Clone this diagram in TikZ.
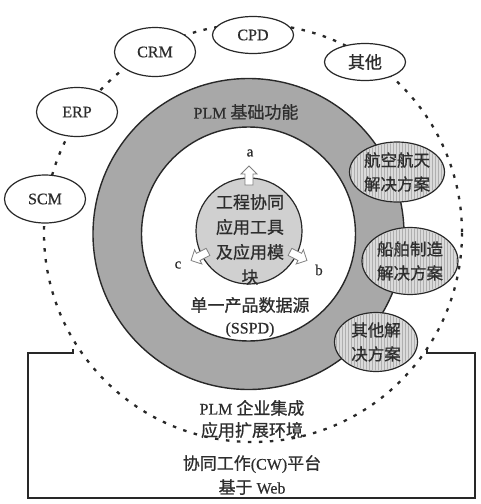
\documentclass[tikz,border=0pt]{standalone}
\usepackage{fontspec}
\setmainfont[FakeBold=0.6]{Liberation Serif}
\newfontfamily\cjk[FakeBold=0.8]{Noto Sans CJK SC}
\usetikzlibrary{shapes.geometric,patterns}
\definecolor{ringgray}{RGB}{168,168,168}
\definecolor{coregray}{RGB}{208,208,208}
\definecolor{solgray}{RGB}{218,218,218}
\definecolor{hatch}{RGB}{175,175,175}
\definecolor{ink}{RGB}{40,40,40}
\definecolor{txtc}{RGB}{45,45,45}
\begin{document}
\begin{tikzpicture}[x=1pt,y=-1pt,
  lbl/.style={text=txtc,font=\fontsize{16}{19}\selectfont,inner sep=0pt},
  mlbl/.style={lbl,align=center},
  oval/.style={ellipse,draw=ink,line width=1.2pt,fill=white,minimum width=81pt,minimum height=48pt,inner sep=0pt,text=txtc,font=\fontsize{16}{19}\selectfont},
  solution/.style={ellipse,draw=ink,line width=1.2pt,fill=solgray,inner sep=0pt,align=center,text=txtc,font=\fontsize{16.5}{24}\selectfont\cjk},
  hatching/.style={pattern=vertical lines,pattern color=hatch},
  dots/.style={line width=2.3pt,dash pattern=on 3.5pt off 7.5pt,draw=ink},
  frame/.style={draw=ink,line width=1.3pt},
  arr/.style={draw=gray,fill=white,line width=0.8pt,line join=miter},
  blockarr/.pic={\path[arr] (46,-4) -- (57,-4) -- (57,-8) -- (65,0) -- (57,8) -- (57,4) -- (46,4) -- cycle;}
]
\useasboundingbox (0,0) rectangle (481,504);

% platform frame
\coordinate (fl) at (73,349);
\coordinate (fr) at (427,349);
\draw[frame] (fl) -- (73,353) -- (28,353) -- (28,498) -- (475,498) -- (475,353) -- (427,353) -- (fr);

% dotted environment circle
\node[circle,minimum size=418pt,inner sep=0pt] (env) at (253,233) {};
\draw[dots] (253,233) circle (209);

% PLM basic function ring
\node[circle,draw=ink,line width=1.4pt,fill=ringgray,minimum size=311pt,inner sep=0pt] (ring) at (248.5,234) {};
\node[circle,draw=ink,line width=1.4pt,fill=white,minimum size=214pt,inner sep=0pt] (sspd) at (248.5,234) {};

% core circle
\node[circle,draw=ink,line width=1.2pt,fill=coregray,minimum size=106pt,inner sep=0pt] (core) at (249,231) {};
\pic (arra) [rotate=90] at (core.center) {blockarr};
\pic (arrc) [rotate=207] at (core.center) {blockarr};
\pic (arrb) [rotate=-27] at (core.center) {blockarr};
\node[lbl,font=\fontsize{15}{18}\selectfont] (la) at (250,153) {a};
\node[lbl,font=\fontsize{15}{18}\selectfont] (lc) at (178,265) {c};
\node[lbl,font=\fontsize{15}{18}\selectfont] (lb) at (319,270) {b};
\node[mlbl,font=\fontsize{17}{25}\selectfont\cjk] (coretxt) at (250,239.5) {工程协同\\应用工具\\及应用模\\块};

% texts in the ring
\node[lbl] (plmbase) at (246,112) {PLM {\cjk\fontsize{17}{19}\selectfont 基础功能}};
\node[mlbl,font=\fontsize{16}{22}\selectfont] (sspdtxt) at (250,317) {{\cjk\fontsize{17}{22}\selectfont 单一产品数据源}\\(SSPD)};

% solution ellipses
\node[solution,minimum width=95pt,minimum height=60pt] (aero) at (397,172) {};
\fill[hatching] (aero.center) ellipse (46.5 and 29);
\node[text=txtc,font=\fontsize{16.5}{24}\selectfont\cjk,align=center,inner sep=0pt] (aerotxt) at (aero.center) {航空航天\\解决方案};
\node[solution,minimum width=96pt,minimum height=67pt] (ship) at (410,261) {};
\fill[hatching] (ship.center) ellipse (47 and 32.5);
\node[text=txtc,font=\fontsize{16.5}{24}\selectfont\cjk,align=center,inner sep=0pt] (shiptxt) at (ship.center) {船舶制造\\解决方案};
\node[solution,minimum width=83pt,minimum height=59pt] (other) at (376,342) {};
\fill[hatching] (other.center) ellipse (40.5 and 28.5);
\node[text=txtc,font=\fontsize{16.5}{24}\selectfont\cjk,align=center,inner sep=0pt] (othertxt) at (other.center) {其他解\\决方案};

% outer systems
\node[oval,minimum height=37pt] (cpd) at (253,35) {CPD};
\node[oval,minimum height=49pt] (crm) at (155,52) {CRM};
\node[oval,minimum height=37pt] (qita) at (365,62) {\cjk\fontsize{17}{19}\selectfont 其他};
\node[oval,minimum height=49pt] (erp) at (77,112) {ERP};
\node[oval,minimum height=48pt] (scm) at (45,199) {SCM};

% bottom texts
\node[mlbl,font=\fontsize{16}{22}\selectfont] (envtxt) at (252,419) {PLM {\cjk\fontsize{17}{22}\selectfont 企业集成}\\{\cjk\fontsize{17}{22}\selectfont 应用扩展环境}};
\node[mlbl,font=\fontsize{16}{24}\selectfont] (cwtxt) at (252,475) {{\cjk\fontsize{17}{24}\selectfont 协同工作}(CW){\cjk\fontsize{17}{24}\selectfont 平台}\\{\cjk\fontsize{17}{24}\selectfont 基于} Web};
\end{tikzpicture}
\end{document}
